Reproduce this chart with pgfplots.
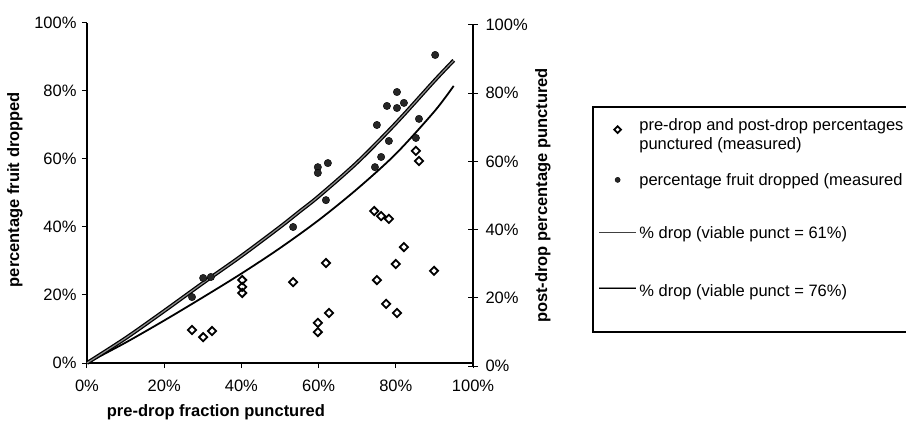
\documentclass[border=0pt]{standalone}
\usepackage{pgfplots}
\pgfplotsset{compat=1.18}
\usepackage{fontspec}
\setmainfont{Liberation Sans}

\pgfplotsset{
  diamleg/.style={legend image code/.code={\draw[mark repeat=2,mark phase=2,##1,mark size=2.4bp] plot coordinates {(0bp,0bp) (18.5bp,0bp) (37bp,0bp)};}},
  dotleg/.style={legend image code/.code={\draw[mark repeat=2,mark phase=2,##1,mark size=2.6bp] plot coordinates {(0bp,0bp) (18.5bp,0bp) (37bp,0bp)};}},
  thinleg/.style={legend image code/.code={\path (0bp,6bp); \draw[black!75, line width=0.9bp] (0bp,-3bp) -- (37bp,-3bp);}},
  dblleg/.style={legend image code/.code={\path (0bp,6bp); \draw[black, line width=0.8bp, double=black!45, double distance=0.8bp] (0bp,-3bp) -- (37bp,-3bp);}},
}

\pgfplotstableread{
x y
27.2 19.4
30.1 25.0
32.1 25.3
53.4 40.0
59.8 57.6
59.8 55.9
62.4 58.8
61.9 47.9
74.6 57.6
76.2 60.6
75.1 70.0
77.7 75.6
78.2 65.3
80.3 79.7
80.3 75.0
82.1 76.5
85.2 66.2
86.0 71.8
90.2 90.6
}\dropped

\pgfplotstableread{
x y
27.2 9.7
30.1 7.6
32.4 9.4
40.2 24.4
40.2 22.4
40.2 20.6
53.4 23.8
61.9 29.4
59.8 11.8
59.8 9.1
62.7 14.7
74.4 44.7
76.2 43.2
78.2 42.4
82.1 34.1
80.0 29.1
89.9 27.1
75.1 24.4
77.5 17.4
80.3 14.7
85.2 62.4
86.0 59.4
}\punct

\pgfplotstableread{
x y
0 0
10 6
20 12.5
30 19.3
40 26.3
50 33.8
60 42
70 51.2
80 61.5
90 74
95 81.5
}\lowcurve

\pgfplotstableread{
x y
0 0
10 7.3
20 15.3
30 23.5
40 31.5
50 40
55 44.5
60 49
70 59
80 70.5
90 83
95 89
}\upcurve

\begin{document}
\begin{tikzpicture}
\begin{axis}[
  at={(0bp,0bp)}, anchor=south west,
  width=386bp, height=340bp, scale only axis,
  xmin=0, xmax=100, ymin=0, ymax=100,
  axis x line*=bottom, axis y line*=left,
  axis line style={line width=1.1bp, black},
  xtick={0,20,40,60,80,100},
  xticklabels={0\%,20\%,40\%,60\%,80\%,100\%},
  ytick={0,20,40,60,80,100},
  yticklabels={0\%,20\%,40\%,60\%,80\%,100\%},
  tick align=outside, major tick length=5bp,
  tick style={line width=1bp, black},
  tick label style={font=\fontsize{16.5bp}{19bp}\selectfont},
  xticklabel style={yshift=-8bp},
  yticklabel style={xshift=-2bp},
  xlabel={\bfseries pre-drop fraction punctured},
  ylabel={\bfseries percentage fruit dropped},
  every axis x label/.style={at={(axis description cs:0.334,0)}, anchor=center, yshift=-49bp, font=\fontsize{16.5bp}{19bp}\selectfont},
  every axis y label/.style={at={(axis description cs:-0.1865,0.51)}, anchor=center, rotate=90, font=\fontsize{16.5bp}{19bp}\selectfont},
  clip=false,
  legend cell align=left,
  legend style={at={(axis description cs:1.311,0.753)}, anchor=north west,
    yshift=-4bp,
    draw=none, fill=none, inner xsep=4bp, inner ysep=6bp,
    font=\fontsize{16.5bp}{19bp}\selectfont,
    row sep=30bp, column sep=1bp,
    nodes={inner sep=1bp}},
]
\addplot[only marks, mark=square, mark size=2.9bp, mark options={rotate=45, line width=1.8bp, fill=white, draw=black}, diamleg]
  table[x=x,y=y] {\punct};
\addlegendentry{\parbox[c]{290bp}{pre-drop and post-drop percentages\\punctured (measured)}}
\addplot[only marks, mark=*, mark size=3.7bp, mark options={fill=black!85, draw=black}, dotleg]
  table[x=x,y=y] {\dropped};
\addlegendentry{percentage fruit dropped (measured}
\addplot[smooth, black, line width=1.8bp, thinleg]
  table[x=x,y=y] {\lowcurve};
\addlegendentry{\rule{0pt}{20bp}\% drop (viable punct = 61\%)}
\addplot[smooth, black, line width=1.3bp, double=black!45, double distance=1.2bp, dblleg]
  table[x=x,y=y] {\upcurve};
\addlegendentry{\rule{0pt}{24bp}\% drop (viable punct = 76\%)}
\draw[line width=1.2bp, black] (axis description cs:1.311,0.753) rectangle (axis description cs:2.4,0.0912);
\end{axis}
\begin{axis}[
  at={(0bp,-3bp)}, anchor=south west,
  width=386bp, height=341bp, scale only axis,
  xmin=0, xmax=100, ymin=0, ymax=100,
  axis y line*=right, axis x line=none,
  axis line style={line width=1.1bp, black},
  ytick={0,20,40,60,80,100},
  yticklabels={0\%,20\%,40\%,60\%,80\%,100\%},
  tick align=center, major tick length=10bp,
  tick style={line width=1bp, black},
  tick label style={font=\fontsize{16.5bp}{19bp}\selectfont},
  yticklabel style={xshift=4bp},
  ylabel={\bfseries post-drop percentage punctured},
  every axis y label/.style={at={(axis description cs:1.1813,0.5)}, anchor=center, rotate=90, font=\fontsize{16.5bp}{19bp}\selectfont},
]
\addplot[draw=none, forget plot] coordinates {(0,0)};
\end{axis}
\pgfresetboundingbox
\path[use as bounding box] (-87bp,-60bp) rectangle (819bp,363bp);
\end{tikzpicture}
\end{document}
